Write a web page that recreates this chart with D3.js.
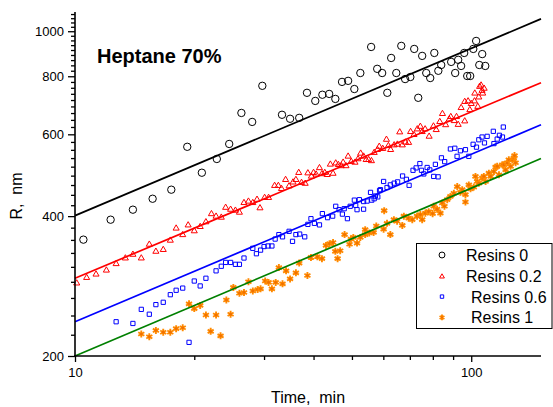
<!DOCTYPE html>
<html>
<head>
<meta charset="utf-8">
<script src="https://cdn.jsdelivr.net/npm/d3@7"></script>
<style>
  body { margin: 0; background: #fff; }
  text { font-family: Arial, "Liberation Sans", sans-serif; white-space: pre; }
</style>
</head>
<body>
<div id="chart"></div>
<script>
// time (min), R (nm)
var resins0 = [[10.5,356],[12.3,393],[14.0,413],[15.7,436],[17.5,456],[19.2,564],[20.9,496],[22.8,531],[24.5,572],
  [26.3,667],[28.0,638],[29.7,763],[33.3,661],[34.9,648],[36.8,651],[38.5,737],[40.4,708],[42.1,730],[43.8,733],
  [45.4,715],[47.2,778],[48.9,782],[50.7,751],[52.5,813],[55.9,925],[57.9,830],[59.6,813],[61.4,737],[62.8,876],
  [64.7,813],[66.6,930],[68.1,789],[70.2,797],[71.8,916],[73.5,719],[75.2,885],[77.0,813],[78.8,793],[80.7,898],
  [82.6,822],[84.0,846],[89.0,859],[91.1,813],[92.7,868],[94.3,842],[96.0,898],[97.7,801],[99.4,801],[101.2,916],
  [102.9,953],[104.8,846],[106.6,893],[108.5,842]];

var resins02 = [[10.1,288],[10.7,296],[11.3,301],[12.0,307],[12.7,317],[13.4,326],[14.0,332],[14.7,326],[15.4,349],
  [16.0,337],[16.7,340],[17.4,356],[18.0,378],[18.7,366],[19.3,384],[20.0,373],[20.7,381],[21.4,390],[22.1,406],
  [22.7,401],[23.4,399],[24.0,419],[24.7,415],[25.4,413],[26.0,409],[26.7,429],[27.4,432],[28.1,429],[28.8,436],
  [29.3,418],[30.1,440],[30.8,440],[31.9,467],[32.6,467],[33.2,460],[34.0,481],[34.7,466],[35.5,475],[36.1,481],
  [36.7,498],[37.3,474],[38.1,472],[38.7,497],[39.5,489],[40.0,498],[40.6,494],[41.4,510],[42.0,495],[42.7,498],
  [43.3,493],[44.1,519],[44.8,496],[45.5,522],[46.2,518],[47.0,515],[47.5,524],[48.3,515],[48.9,540],[49.8,526],
  [50.9,524],[51.8,533],[52.6,548],[53.5,540],[54.3,531],[55.1,531],[56.0,528],[56.9,550],[58.0,558],[58.6,567],
  [59.8,561],[61.1,587],[61.8,569],[62.6,558],[63.9,571],[65.1,573],[66.0,609],[67.0,571],[68.2,579],[69.5,578],
  [70.3,610],[71.7,601],[73.1,618],[74.4,626],[75.2,610],[76.5,618],[78.3,596],[80.3,627],[81.6,616],[83.3,641],
  [84.6,667],[86.2,631],[88.0,649],[88.8,657],[90.6,644],[91.8,657],[92.7,632],[94.3,687],[96.3,643],[96.3,708],
  [98.2,710],[99.2,680],[100.0,701],[101.9,710],[102.1,738],[103.9,691],[104.5,724],[105.0,763],[105.9,768],
  [106.5,748],[106.9,738],[107.8,756]];

var resins06 = [[12.7,237],[14.0,235],[14.7,252],[15.4,246],[16.0,258],[16.7,261],[17.4,271],[18.0,277],[18.7,280],
  [19.4,214],[20.0,290],[20.7,283],[21.4,294],[22.7,305],[23.4,312],[24.0,318],[24.7,318],[25.4,315],[26.0,315],
  [26.7,325],[28.1,341],[28.7,332],[29.4,338],[30.0,344],[30.7,345],[31.4,345],[32.0,357],[32.7,365],[33.4,361],
  [34.7,371],[35.4,353],[36.1,365],[36.9,366],[38.0,361],[38.7,384],[39.4,395],[40.2,386],[41.4,383],[42.1,405],
  [43.4,397],[44.7,400],[45.5,420],[46.4,413],[47.3,404],[47.8,415],[48.7,395],[49.5,420],[50.7,433],[51.1,422],
  [51.5,413],[52.2,434],[53.5,430],[53.5,414],[54.6,431],[55.7,450],[56.1,433],[56.9,436],[57.3,442],[58.1,440],
  [58.7,454],[59.0,456],[60.1,475],[61.3,461],[62.5,467],[63.9,471],[65.2,474],[67.1,488],[68.6,480],[69.7,466],
  [71.3,502],[72.6,508],[74.2,519],[74.9,502],[75.9,493],[77.4,509],[78.6,503],[80.4,487],[81.2,517],[82.5,486],
  [84.1,534],[85.7,524],[88.6,558],[90.9,560],[92.1,538],[93.9,553],[96.7,556],[98.6,538],[101.1,571],[103.1,563],
  [104.5,584],[106.5,592],[108.0,575],[109.7,594],[113.7,609],[114.1,573],[116.3,586],[117.8,597],[119.9,592],
  [120.5,622]];

var resins1 = [[14.7,223],[15.4,220],[16.0,227],[16.7,225],[17.4,225],[18.0,229],[18.7,230],[19.4,259],[20.0,253],
  [20.7,257],[21.4,245],[22.0,226],[22.7,245],[23.3,221],[24.1,264],[24.7,246],[25.1,281],[26.0,273],[26.7,274],
  [27.4,289],[28.1,276],[28.9,278],[29.4,279],[30.2,290],[30.8,288],[31.4,279],[32.1,288],[32.7,310],[33.4,286],
  [34.1,305],[34.9,293],[36.1,302],[36.8,317],[38.6,298],[39.4,326],[40.9,327],[42.0,324],[43.0,346],[43.9,349],
  [44.8,351],[45.4,336],[46.0,324],[46.7,337],[47.9,365],[49.3,348],[49.7,357],[50.4,360],[51.5,350],[52.5,360],
  [54.0,365],[54.0,374],[55.3,368],[56.7,369],[57.6,381],[60.1,375],[60.3,411],[61.3,386],[62.5,365],[63.8,393],
  [65.0,390],[67.0,382],[67.6,400],[69.5,396],[71.0,393],[73.0,400],[74.4,403],[75.2,393],[76.6,406],[78.1,409],
  [79.9,405],[80.4,420],[82.0,414],[83.6,406],[84.5,427],[85.6,420],[87.0,434],[88.6,441],[90.4,448],[92.2,463],
  [93.9,450],[94.9,456],[96.7,429],[96.7,445],[98.6,467],[99.6,458],[101.5,462],[102.5,487],[103.5,475],[104.5,471],
  [106.6,483],[107.6,487],[108.7,475],[110.8,495],[111.9,487],[114.1,499],[115.2,510],[116.3,512],[117.5,491],
  [119.8,516],[120.9,516],[122.1,503],[123.3,521],[124.4,529],[125.7,512],[127.0,529],[128.1,534],[128.6,540],
  [129.4,521]];

// fitted lines, read at both ends of the axis
var fit0 = [[10,401],[150,1063]];
var fit02 = [[10,294],[150,775]];
var fit06 = [[10,237],[150,629]];
var fit1 = [[10,200],[150,532]];

var yTicks = [200,400,600,800,1000];
var xTicks = [10,100];
var legendNames = ["Resins 0","Resins 0.2","Resins 0.6","Resins 1"];

var width = 553, height = 407;
var svg = d3.select("#chart").append("svg")
    .attr("width", width)
    .attr("height", height);

var x = d3.scaleLog().domain([10,150]).range([75,541]);
var y = d3.scaleLog().domain([200,1100]).range([356,12]);

var series = [
  {data: resins0, fit: fit0, sym: "circle", color: "#000000", line: "#000000"},
  {data: resins02, fit: fit02, sym: "triangle", color: "#ff0000", line: "#ff0000"},
  {data: resins06, fit: fit06, sym: "square", color: "#0000ff", line: "#0000ff"},
  {data: resins1, fit: fit1, sym: "star", color: "#ff8a00", line: "#008000"}
];

function marker(sel, sym, color, small) {
  var k = small ? 0.8 : 1;
  if (sym == "circle") {
    sel.append("circle").attr("r", 3.7*k)
      .style("fill","none").style("stroke",color).style("stroke-width",1);
  } else if (sym == "triangle") {
    sel.append("path").attr("d", d3.symbol(d3.symbolTriangle, 16*k*k)())
      .attr("transform","translate(0,0.8)")
      .style("fill","none").style("stroke",color).style("stroke-width",1);
  } else if (sym == "square") {
    sel.append("path").attr("d", d3.symbol(d3.symbolSquare, 18*k*k)())
      .style("fill","none").style("stroke",color).style("stroke-width",1);
  } else {
    sel.append("path").attr("d", d3.symbol(d3.symbolAsterisk, 34*k*k)())
      .style("fill","none").style("stroke",color).style("stroke-width",1.9);
    sel.append("circle").attr("r", 1.4*k).style("fill","#f07000");
  }
}

// points
series.forEach(function(s){
  var g = svg.append("g").selectAll("g")
    .data(s.data)
    .enter()
    .append("g")
    .attr("transform", function(d){ return "translate(" + x(d[0]) + "," + y(d[1]) + ")"; });
  marker(g, s.sym, s.color, false);
});

// fit lines
var line = d3.line().x(function(d){return x(d[0]);}).y(function(d){return y(d[1]);});
svg.selectAll("path.fit")
  .data(series)
  .enter()
  .append("path")
  .attr("class","fit")
  .attr("d", function(s){ return line(s.fit); })
  .style("fill","none")
  .style("stroke", function(s){ return s.line; })
  .style("stroke-width",1.7);

// axes
var yMinor = [];
for (var i = 0; i < yTicks.length; i++) {
  for (var k = 1; k <= 8; k++) {
    var v = yTicks[i] + k*200/9;
    if (v < 1100) yMinor.push(v);
  }
}
var xMinor = [20,30,40,50,60,70,80,90];

var yAxis = svg.append("g").attr("transform","translate(75,0)")
  .call(d3.axisLeft(y).tickValues(yTicks).tickFormat(d3.format("d")).tickSize(7).tickPadding(4));
svg.append("g").attr("transform","translate(75,0)")
  .call(d3.axisLeft(y).tickValues(yMinor).tickFormat("").tickSize(4))
  .select(".domain").remove();

var xAxis = svg.append("g").attr("transform","translate(0,356)")
  .call(d3.axisBottom(x).tickValues(xTicks).tickFormat(d3.format("d")).tickSize(6).tickPadding(6));
svg.append("g").attr("transform","translate(0,356)")
  .call(d3.axisBottom(x).tickValues(xMinor).tickFormat("").tickSize(4))
  .select(".domain").remove();

svg.selectAll(".domain").attr("d", null);
yAxis.append("line").attr("x1",0).attr("x2",0).attr("y1",y(1100)).attr("y2",357)
  .style("stroke","#000").style("stroke-width",1.6);
xAxis.append("line").attr("x1",74).attr("x2",541).attr("y1",0).attr("y2",0)
  .style("stroke","#000").style("stroke-width",1.6);
svg.selectAll(".tick line").style("stroke","#000").style("stroke-width",1.3);
svg.selectAll(".tick text").style("font-size","13px").style("fill","#000")
  .style("font-family","Arial, 'Liberation Sans', sans-serif");

// labels
svg.append("text").attr("x",308).attr("y",403).attr("text-anchor","middle")
  .style("font-size","16px").text("Time,  min");
svg.append("text").attr("transform","translate(22,196) rotate(-90)").attr("text-anchor","middle")
  .style("font-size","16px").text("R,  nm");
svg.append("text").attr("x",97).attr("y",63)
  .style("font-size","20px").style("font-weight","bold").text("Heptane 70%");

// legend
svg.append("rect").attr("x",416.5).attr("y",243.5).attr("width",135.5).attr("height",85)
  .style("fill","#fff").style("stroke","#000").style("stroke-width",1);
var lg = svg.selectAll("g.leg")
  .data(series)
  .enter()
  .append("g")
  .attr("class","leg")
  .attr("transform", function(s,i){ return "translate(442," + (255 + i*20.8) + ")"; });
lg.each(function(s){ marker(d3.select(this), s.sym, s.color, true); });
lg.append("text")
  .attr("x", function(s,i){ return i >= 2 ? 29 : 24; })
  .attr("y", 6)
  .style("font-size","16px")
  .text(function(s,i){ return legendNames[i]; });
</script>
</body>
</html>
